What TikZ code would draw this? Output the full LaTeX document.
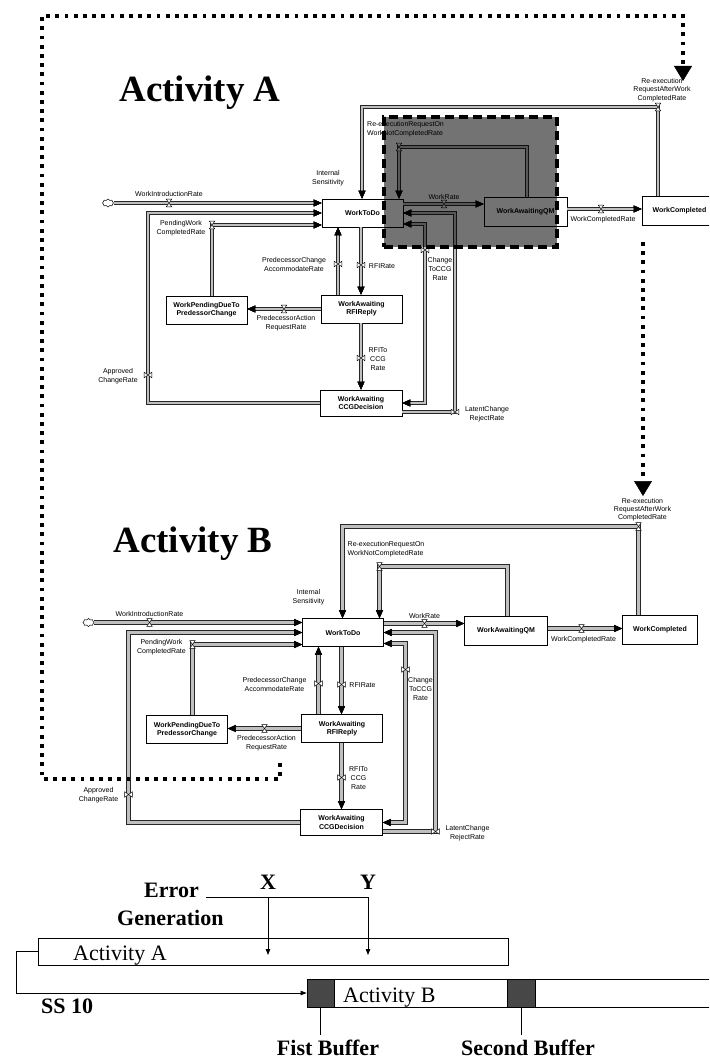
\documentclass[tikz,border=0pt]{standalone}
\usepackage{fontspec}
\setmainfont{Liberation Serif}
\setsansfont{Liberation Sans}
\usetikzlibrary{arrows.meta,shapes.symbols,calc}

\tikzset{
  stock/.style={draw=black, line width=0.6pt, fill=white, minimum width=81pt,
    minimum height=28pt, inner sep=1pt, align=center,
    font=\sffamily\bfseries\fontsize{7}{8.2}\selectfont},
  lbl/.style={font=\sffamily\fontsize{7}{9}\selectfont, align=center, inner sep=0pt},
  pipe/.style={draw=gray!50, line width=2.3pt, line join=miter, line cap=butt,
    preaction={draw=black!85, line width=4.3pt}},
  flowtip/.tip={Triangle[length=8pt,width=7pt,line width=0.3pt,color=black]},
  into/.style={-flowtip},
  twoway/.style={flowtip-flowtip},
  valve/.style={draw=black, fill=white, line width=0.45pt, line join=miter},
  pics/hglass/.style={code={\draw[valve] (-2.8,-3.9) -- (2.8,-3.9) -- (-2.8,3.9) -- (2.8,3.9) -- cycle;}},
  pics/bowtie/.style={code={\draw[valve] (-3.9,-2.8) -- (-3.9,2.8) -- (3.9,-2.8) -- (3.9,2.8) -- cycle;}},
  srccloud/.style={cloud, cloud puffs=8, cloud ignores aspect, draw=black, line width=0.5pt,
    fill=white, minimum width=11pt, minimum height=8pt, inner sep=0pt},
  hotzone/.style={draw=black, line width=3.5pt, dash pattern=on 9pt off 5pt,
    fill=black, fill opacity=0.55, draw opacity=1},
  dotln/.style={draw=black, line width=3.8pt, dash pattern=on 3.8pt off 5.4pt, line cap=butt},
  bigtip/.style={-{Triangle[length=15pt,width=18pt,line width=0.5pt,color=black]}},
  ttl/.style={font=\rmfamily\bfseries\fontsize{37}{40}\selectfont, inner sep=0pt},
  gtxt/.style={font=\rmfamily\bfseries\fontsize{22}{24}\selectfont, inner sep=0pt},
  gplain/.style={font=\rmfamily\fontsize{22}{24}\selectfont, inner sep=0pt},
  gbar/.style={draw=black, line width=0.8pt, fill=white, inner sep=0pt},
  buf/.style={draw=black, line width=0.8pt, fill=black!72, inner sep=0pt},
  gline/.style={draw=black, line width=0.8pt},
  gtip/.style={-{Triangle[length=6pt,width=4.5pt]}}
}

% One activity: stocks, flows, valves and their labels
\newcommand\activitynet{%
  \node[stock] (todo) at (362.5,213) {WorkToDo};
  \node[stock, minimum width=83pt, minimum height=29pt] (qm) at (525.5,211.5) {WorkAwaitingQM};
  \node[stock, minimum width=75pt, minimum height=29pt] (done) at (679.5,210.5) {WorkCompleted};
  \node[stock] (rfi) at (361.5,309) {WorkAwaiting\\RFIReply};
  \node[stock, minimum width=82pt, minimum height=26pt] (ccg) at (361,403) {WorkAwaiting\\CCGDecision};
  \node[stock] (pend) at (206.5,310) {WorkPendingDueTo\\PredessorChange};
  \node[srccloud] (src) at (108,203) {};
  % corner and valve points
  \coordinate (wi) at (169,203);
  \coordinate (ap1) at (148,403); \coordinate (ap2) at (148,213); \coordinate (apv) at (148,375);
  \coordinate (pw) at (212,225);
  \coordinate (pa) at (284,309);
  \coordinate (pc) at (338,264);
  \coordinate (rr) at (361,265);
  \coordinate (rc) at (361,358);
  \coordinate (cc1) at (425,224); \coordinate (cc2) at (425,403); \coordinate (ccv) at (425,250);
  \coordinate (lc1) at (455,412); \coordinate (lc2) at (455,213);
  \coordinate (wr) at (444,204);
  \coordinate (wc) at (601,209);
  \coordinate (ra1) at (658,107); \coordinate (ra2) at (362,107);
  \coordinate (rn1) at (527,147); \coordinate (rn2) at (399,147);
  % flows
  \draw[pipe,into] (src.east) -- (todo.west |- src.east);
  \draw[pipe,into] (ccg.west) -- (ap1) -- (ap2) -- (todo.west |- ap2);
  \draw[pipe,into] (pend.north -| pw) -- (pw) -- (todo.west |- pw);
  \draw[pipe,into] (rfi.west |- pa) -- (pend.east |- pa);
  \draw[pipe,into] (rfi.north -| pc) -- (todo.south -| pc);
  \draw[pipe,into] (todo.south -| rr) -- (rfi.north -| rr);
  \draw[pipe,into] (rfi.south -| rc) -- (ccg.north -| rc);
  \draw[pipe,twoway] (todo.east |- cc1) -- (cc1) -- (cc2) -- (ccg.east |- cc2);
  \draw[pipe,into] (ccg.east |- lc1) -- (lc1) -- (lc2) -- (todo.east |- lc2);
  \draw[pipe,into] (todo.east |- wr) -- (qm.west |- wr);
  \draw[pipe,into] (qm.east |- wc) -- (done.west |- wc);
  \draw[pipe,into] (done.north -| ra1) -- (ra1) -- (ra2) -- (todo.north -| ra2);
  \draw[pipe,into] (qm.north -| rn1) -- (rn1) -- (rn2) -- (todo.north -| rn2);
  % valves
  \pic at (wi) {hglass};
  \pic at (apv) {bowtie};
  \pic at (pw) {hglass};
  \pic at (pa) {hglass};
  \pic at (pc) {bowtie};
  \pic at (rr) {bowtie};
  \pic at (rc) {bowtie};
  \pic at (ccv) {bowtie};
  \pic at (lc1) {bowtie};
  \pic at (wr) {hglass};
  \pic at (wc) {hglass};
  \pic at (ra1) {hglass};
  \pic at (rn2) {hglass};
  % labels
  \node[lbl] (lIntro) at (169,194) {WorkIntroductionRate};
  \node[lbl] (lSens) at (328,178) {Internal\\Sensitivity};
  \node[lbl] (lPend) at (181,228) {PendingWork\\CompletedRate};
  \node[lbl] (lPC) at (294,264.5) {PredecessorChange\\AccommodateRate};
  \node[lbl] (lRFI) at (382,266) {RFIRate};
  \node[lbl] (lPA) at (286,323.5) {PredecessorAction\\RequestRate};
  \node[lbl] (lRC) at (378,359) {RFITo\\CCG\\Rate};
  \node[lbl] (lCC) at (440,269) {Change\\ToCCG\\Rate};
  \node[lbl] (lLC) at (487,414) {LatentChange\\RejectRate};
  \node[lbl] (lAP) at (118,376) {Approved\\ChangeRate};
  \node[lbl] (lWR) at (444,196.5) {WorkRate};
  \node[lbl] (lWC) at (603,220) {WorkCompletedRate};
  \node[lbl, font=\sffamily\fontsize{7}{8.2}\selectfont] (lRA) at (662,90) {Re-execution\\RequestAfterWork\\CompletedRate};
  \node[lbl, align=left, anchor=west] (lRN) at (367,129.5) {Re-executionRequestOn\\WorkNotCompletedRate};
}

\begin{document}
\begin{tikzpicture}[x=1pt,y=-1pt]
\useasboundingbox (0,0) rectangle (709,1059);
\clip (0,0) rectangle (709,1059);
\fill[white] (0,0) rectangle (709,1059);

% ---- Activity A ----
\node[ttl, anchor=base] (titleA) at (200,102) {Activity A};
\begin{scope}[name prefix=A-]
  \activitynet
\end{scope}
\node[hotzone, minimum width=173pt, minimum height=130pt] (zone) at (470.5,182) {};

% ---- Activity B ----
\node[ttl, anchor=base] (titleB) at (193,552) {Activity B};
\begin{scope}[shift={(-19.5,419.5)}, name prefix=B-]
  \activitynet
\end{scope}

% ---- rework feedback paths ----
\coordinate (dA0) at (280,763);
\coordinate (dA1) at (280,779);
\coordinate (dA2) at (42,779);
\coordinate (dA3) at (42,16);
\coordinate (dA4) at (683,16);
\coordinate (dA5) at (683,81);
\draw[dotln,bigtip] (dA0) -- (dA1) -- (dA2) -- (dA3) -- (dA4) -- (dA5);
\coordinate (dB0) at (643,242);
\coordinate (dB1) at (643,496);
\draw[dotln,bigtip] (dB0) -- (dB1);

% ---- schedule with buffers ----
\node[gtxt, anchor=base west] (gErr) at (144,897) {Error};
\node[gtxt, anchor=base west] (gGen) at (117,925) {Generation};
\node[gtxt, anchor=base] (gX) at (268,889) {X};
\node[gtxt, anchor=base] (gY) at (368,889) {Y};
\node[gbar, minimum width=470pt, minimum height=27pt] (barA) at (273,951.5) {};
\node[gplain, anchor=base west] (tA) at (73,960) {Activity A};
\node[gbar, minimum width=410pt, minimum height=28pt] (barB) at (512,993) {};
\node[buf, minimum width=27pt, minimum height=28pt] (buf1) at (320.5,993) {};
\node[buf, minimum width=28pt, minimum height=28pt] (buf2) at (521,993) {};
\node[gplain, anchor=base west] (tB) at (343,1002) {Activity B};
\node[gtxt, anchor=base west] (gSS) at (41,1013) {SS 10};
\node[gtxt, anchor=base] (gFB) at (328,1055) {Fist Buffer};
\node[gtxt, anchor=base] (gSB) at (528,1055) {Second Buffer};

\coordinate (eL) at (206,897);
\coordinate (eX) at (268,897);
\coordinate (eY) at (368,897);
\coordinate (hX) at (268,955);
\draw[gline] (eL) -- (eY);
\draw[gline,gtip] (eX) -- (hX);
\draw[gline,gtip] (eY) -- (eY |- hX);
\coordinate (s1) at (16,951.5);
\coordinate (s2) at (16,993);
\draw[gline,gtip] (barA.west) -- (s1) -- (s2) -- (barB.west);
\draw[gline] (buf1.south) -- ($(buf1.south)+(0,28)$);
\draw[gline] (buf2.south) -- ($(buf2.south)+(0,28)$);
\end{tikzpicture}
\end{document}
